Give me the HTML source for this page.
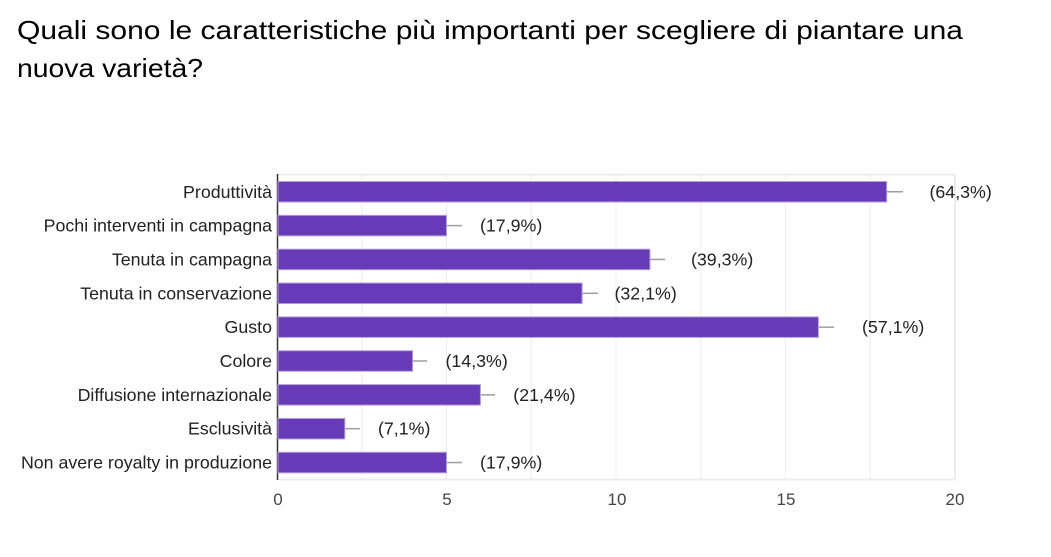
<!DOCTYPE html>
<html><head><meta charset="utf-8"><style>
html,body{margin:0;padding:0;background:#fff;}
svg{display:block;}
text{font-family:"Liberation Sans",Arial,sans-serif;}
</style></head><body>
<svg width="1051" height="557" viewBox="0 0 1051 557" xmlns="http://www.w3.org/2000/svg">
<rect width="1051" height="557" fill="#fff"/>
<text x="17" y="39" font-size="26" fill="#000" textLength="946" lengthAdjust="spacingAndGlyphs">Quali sono le caratteristiche più importanti per scegliere di piantare una</text>
<text x="17" y="77" font-size="26" fill="#000" textLength="186" lengthAdjust="spacingAndGlyphs">nuova varietà?</text>

<!-- grid -->
<g stroke="#efefef" stroke-width="1.2">
<line x1="361.75" y1="174" x2="361.75" y2="480"/>
<line x1="446.5" y1="174" x2="446.5" y2="480"/>
<line x1="531.25" y1="174" x2="531.25" y2="480"/>
<line x1="616" y1="174" x2="616" y2="480"/>
<line x1="700.75" y1="174" x2="700.75" y2="480"/>
<line x1="785.5" y1="174" x2="785.5" y2="480"/>
<line x1="870.25" y1="174" x2="870.25" y2="480"/>
</g>
<g stroke="#ececec" stroke-width="2">
<line x1="277" y1="174.5" x2="955" y2="174.5"/>
<line x1="277" y1="479.5" x2="956" y2="479.5"/>
<line x1="955" y1="174" x2="955" y2="480"/>
</g>
<line x1="277.5" y1="174" x2="277.5" y2="480" stroke="#333" stroke-width="1.5"/>

<!-- bars -->
<g fill="#673ab7" stroke="#b39ddb" stroke-width="1">
<rect x="278" y="181.5" width="608.7" height="20.5"/>
<rect x="278" y="215.35" width="168.5" height="20.5"/>
<rect x="278" y="249.2" width="371.9" height="20.5"/>
<rect x="278" y="283.05" width="304.1" height="20.5"/>
<rect x="278" y="316.9" width="540.4" height="20.5"/>
<rect x="278" y="350.75" width="134.6" height="20.5"/>
<rect x="278" y="384.6" width="202.4" height="20.5"/>
<rect x="278" y="418.45" width="66.8" height="20.5"/>
<rect x="278" y="452.3" width="168.5" height="20.5"/>
</g>
<!-- whiskers -->
<g stroke="#9e9e9e" stroke-width="1.5">
<line x1="887" y1="191.75" x2="903" y2="191.75"/>
<line x1="447" y1="225.6" x2="462" y2="225.6"/>
<line x1="650" y1="259.45" x2="665" y2="259.45"/>
<line x1="582.5" y1="293.3" x2="598" y2="293.3"/>
<line x1="819" y1="327.15" x2="834" y2="327.15"/>
<line x1="413" y1="361" x2="427" y2="361"/>
<line x1="481" y1="394.85" x2="495" y2="394.85"/>
<line x1="345.5" y1="428.7" x2="360" y2="428.7"/>
<line x1="447" y1="462.55" x2="462" y2="462.55"/>
</g>

<!-- category labels -->
<g font-size="17.8" fill="#222" text-anchor="end">
<text x="272" y="197.8">Produttività</text>
<text x="272" y="231.6">Pochi interventi in campagna</text>
<text x="272" y="265.5">Tenuta in campagna</text>
<text x="272" y="299.3">Tenuta in conservazione</text>
<text x="272" y="333.2">Gusto</text>
<text x="272" y="367">Colore</text>
<text x="272" y="400.9">Diffusione internazionale</text>
<text x="272" y="434.7">Esclusività</text>
<text x="272" y="468.6">Non avere royalty in produzione</text>
</g>

<!-- value labels -->
<g font-size="17.8" fill="#222">
<text x="929.5" y="197.8">(64,3%)</text>
<text x="480" y="231.6">(17,9%)</text>
<text x="691" y="265.5">(39,3%)</text>
<text x="614.5" y="299.3">(32,1%)</text>
<text x="862" y="333.2">(57,1%)</text>
<text x="445.5" y="367">(14,3%)</text>
<text x="513.3" y="400.9">(21,4%)</text>
<text x="378" y="434.7">(7,1%)</text>
<text x="480" y="468.6">(17,9%)</text>
</g>

<!-- x ticks -->
<g font-size="17" fill="#444" text-anchor="middle">
<text x="278" y="505">0</text>
<text x="447" y="505">5</text>
<text x="617" y="505">10</text>
<text x="786" y="505">15</text>
<text x="955" y="505">20</text>
</g>
</svg>
</body></html>
